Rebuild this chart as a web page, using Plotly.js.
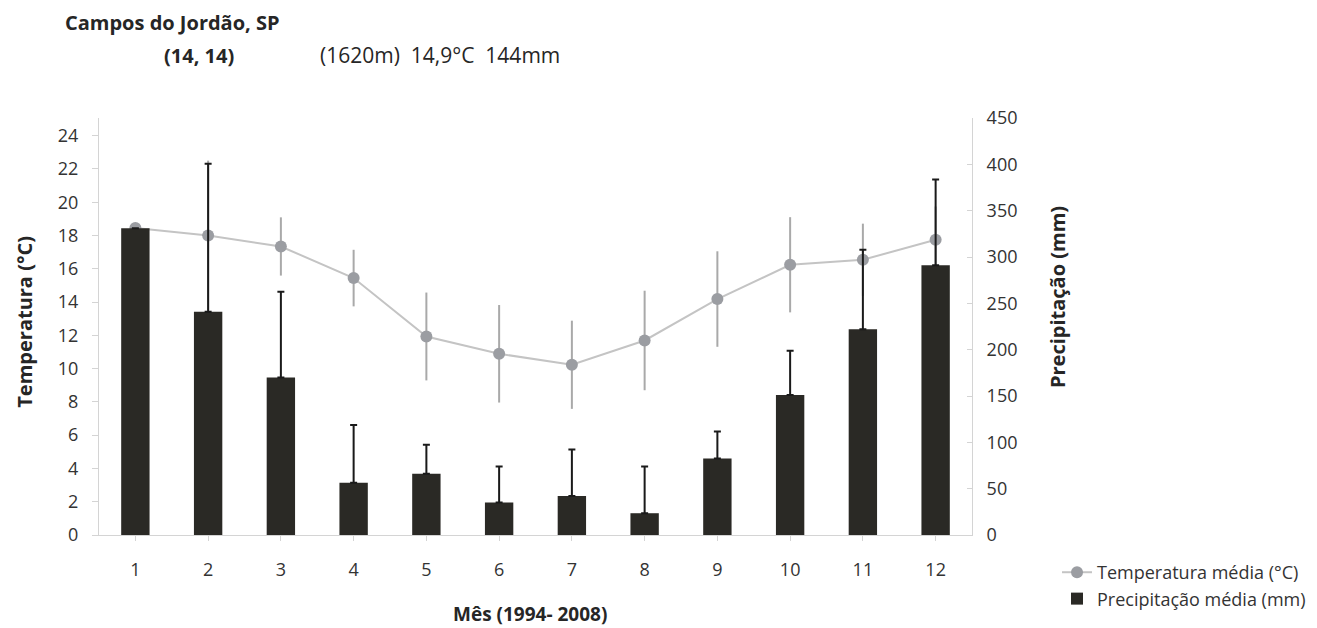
<!DOCTYPE html>
<html>
<head>
<meta charset="utf-8">
<script src="https://cdn.plot.ly/plotly-3.0.1.min.js"></script>
<style>html,body{margin:0;padding:0;background:#fff;}#chart{width:1317px;height:628px;}</style>
</head>
<body>
<div id="chart"></div>
<script>
const months = [1, 2, 3, 4, 5, 6, 7, 8, 9, 10, 11, 12];
const monthLabels = ['1','2','3','4','5','6','7','8','9','10','11','12'];
const tempMean = [18.45, 18.0, 17.34, 15.44, 11.93, 10.89, 10.23, 11.69, 14.18, 16.24, 16.54, 17.74];
const tempErr = [0, 4.5, 1.75, 1.7, 2.64, 2.93, 2.65, 2.99, 2.87, 2.86, 2.17, 2.0];
const precMean = [331, 241, 170, 56.5, 66, 35, 42, 23.5, 82.5, 151, 222, 291];
const precErr = [0, 159.5, 92.4, 62.3, 31.3, 38.9, 50.4, 50.4, 29.2, 47.8, 85.7, 92.6];

const FONT = 'Open Sans, sans-serif';
const TXT = '#333333';
const HEAD = '#262626';

const traces = [
  {
    type: 'scatter', mode: 'lines+markers', name: 'Temperatura média (°C)',
    x: months, y: tempMean, yaxis: 'y',
    line: {color: '#c4c4c4', width: 2},
    marker: {color: '#9b9da2', size: 12},
    error_y: {type: 'data', array: tempErr, visible: true, color: '#a9a9a9', thickness: 2, width: 0}
  },
  {
    type: 'bar', name: 'Precipitação média (mm)',
    x: months, y: precMean, yaxis: 'y2',
    marker: {color: '#2a2925', line: {width: 0}},
    error_y: {type: 'data', array: precErr, symmetric: false, arrayminus: precErr.map(() => 0), visible: true, color: '#1a1a1a', thickness: 2, width: 3.5}
  }
];

const layout = {
  width: 1317, height: 628,
  margin: {l: 99, r: 345, t: 118, b: 93, autoexpand: false},
  paper_bgcolor: '#fff', plot_bgcolor: '#fff',
  font: {family: FONT, size: 18, color: TXT},
  showlegend: true,
  bargap: 0.61,
  xaxis: {
    tickmode: 'array', tickvals: months, ticktext: monthLabels,
    range: [0.5, 12.5], showgrid: false, zeroline: false,
    showline: true, linecolor: '#d4d4d4', linewidth: 1,
    ticks: 'outside', tickson: 'boundaries', ticklen: 5, tickcolor: '#d4d4d4',
    tickfont: {family: FONT, size: 18, color: TXT}, ticklabelstandoff: 13
  },
  yaxis: {
    range: [0, 25.06], tickmode: 'linear', tick0: 0, dtick: 2,
    showgrid: false, zeroline: false, showline: true, linecolor: '#d4d4d4', linewidth: 1,
    ticks: 'outside', ticklen: 6, tickcolor: '#d4d4d4',
    tickfont: {family: FONT, size: 18, color: TXT}, ticklabelstandoff: 10
  },
  yaxis2: {
    range: [0, 450], tickmode: 'linear', tick0: 0, dtick: 50,
    overlaying: 'y', side: 'right',
    showgrid: false, zeroline: false, showline: true, linecolor: '#d4d4d4', linewidth: 1,
    ticks: 'inside', ticklen: 5, tickcolor: '#d4d4d4',
    tickfont: {family: FONT, size: 18, color: TXT}, ticklabelstandoff: 10
  },
  legend: {
    xref: 'container', yref: 'container',
    x: 0.8026, y: 0.1178, xanchor: 'left', yanchor: 'top',
    font: {family: FONT, size: 18, color: TXT},
    bgcolor: 'rgba(0,0,0,0)', traceorder: 'normal', tracegroupgap: 9
  },
  annotations: [
    {text: '<b>Campos do Jordão, SP</b>', xref: 'paper', yref: 'paper', x: -0.0413, y: 1.230, xanchor: 'left', yanchor: 'middle', showarrow: false, font: {family: FONT, size: 20, color: HEAD}},
    {text: '<b>(14, 14)</b>', xref: 'paper', yref: 'paper', x: 0.0723, y: 1.151, xanchor: 'left', yanchor: 'middle', showarrow: false, font: {family: FONT, size: 20, color: HEAD}},
    {text: '(1620m)\u00a0\u00a014,9°C\u00a0\u00a0144mm', xref: 'paper', yref: 'paper', x: 0.2514, y: 1.151, xanchor: 'left', yanchor: 'middle', showarrow: false, font: {family: FONT, size: 21, color: HEAD}},
    {text: '<b>Temperatura (°C)</b>', xref: 'paper', yref: 'paper', x: -0.085, y: 0.511, xanchor: 'center', yanchor: 'middle', textangle: -90, showarrow: false, font: {family: FONT, size: 20, color: HEAD}},
    {text: '<b>Precipitação (mm)</b>', xref: 'paper', yref: 'paper', x: 1.0987, y: 0.571, xanchor: 'center', yanchor: 'middle', textangle: -90, showarrow: false, font: {family: FONT, size: 20, color: HEAD}},
    {text: '<b>Mês (1994- 2008)</b>', xref: 'paper', yref: 'paper', x: 0.494, y: -0.189, xanchor: 'center', yanchor: 'middle', showarrow: false, font: {family: FONT, size: 19, color: HEAD}}
  ]
};

Plotly.newPlot('chart', traces, layout, {displayModeBar: false, staticPlot: true});
</script>
</body>
</html>
